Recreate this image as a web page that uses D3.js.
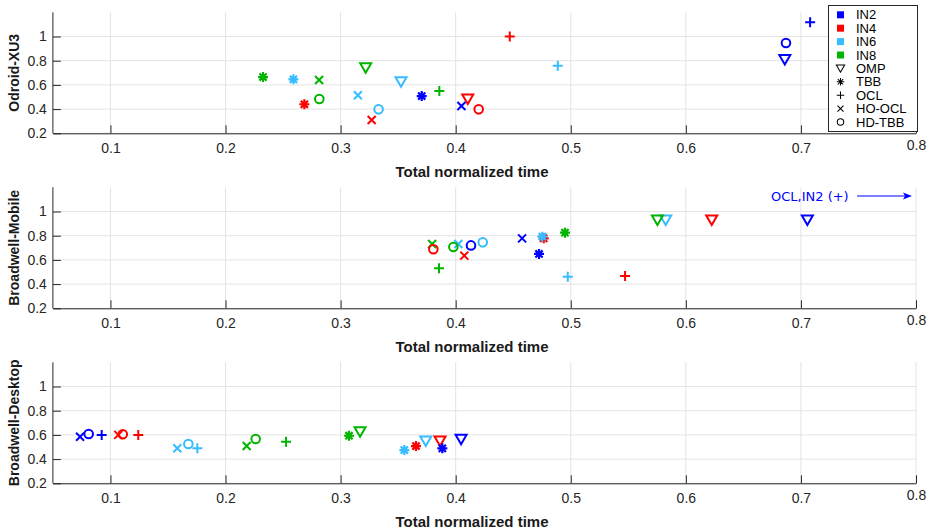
<!DOCTYPE html>
<html>
<head>
<meta charset="utf-8">
<script src="https://cdn.jsdelivr.net/npm/d3@7"></script>
<style>
  body { margin: 0; background: #fff; }
  svg { display: block; font-family: "Liberation Sans", Arial, Helvetica, sans-serif; }
</style>
</head>
<body>
<svg id="chart" width="926" height="532"></svg>
<script>
// ---------------- DATA ----------------
const platforms = ["Odroid-XU3", "Broadwell-Mobile", "Broadwell-Desktop"];
const configs = ["IN2", "IN4", "IN6", "IN8"];
const methods = ["OMP", "TBB", "OCL", "HO-OCL", "HD-TBB"];
const xTicks = [0.1, 0.2, 0.3, 0.4, 0.5, 0.6, 0.7, 0.8];
const yTicks = [0.2, 0.4, 0.6, 0.8, 1];
const xLabel = "Total normalized time";

// rows: IN2, IN4, IN6, IN8 ; columns: OMP, TBB, OCL, HO-OCL, HD-TBB
const odroidTime = [
  [0.686, 0.3705, 0.708, 0.405, 0.687],
  [0.4105, 0.2685, 0.447, 0.327, 0.420],
  [0.3525, 0.259, 0.4887, 0.315, 0.333],
  [0.3218, 0.2326, 0.3858, 0.2813, 0.2815]
];
const odroidEnergy = [
  [0.81, 0.508, 1.117, 0.426, 0.946],
  [0.483, 0.44, 1.0, 0.31, 0.398],
  [0.627, 0.646, 0.759, 0.514, 0.398],
  [0.742, 0.665, 0.55, 0.64, 0.483]
];
const mobileTime = [
  [0.7056, 0.4724, null, 0.4577, 0.4133],
  [0.6225, 0.4765, 0.5472, 0.4075, 0.3806],
  [0.5825, 0.4753, 0.4974, 0.4023, 0.4235],
  [0.5753, 0.495, 0.3855, 0.3795, 0.398]
];
const mobileEnergy = [
  [0.93, 0.649, null, 0.778, 0.72],
  [0.93, 0.778, 0.467, 0.635, 0.688],
  [0.93, 0.792, 0.461, 0.731, 0.745],
  [0.93, 0.825, 0.531, 0.731, 0.707]
];
const desktopTime = [
  [0.4047, 0.3884, 0.0924, 0.0736, 0.0811],
  [0.3864, 0.3655, 0.1242, 0.1068, 0.1107],
  [0.374, 0.3554, 0.1755, 0.1581, 0.1677],
  [0.3169, 0.3073, 0.2526, 0.2184, 0.2262]
];
const desktopEnergy = [
  [0.564, 0.489, 0.6, 0.585, 0.607],
  [0.55, 0.508, 0.6, 0.6, 0.605],
  [0.55, 0.475, 0.489, 0.489, 0.525],
  [0.627, 0.593, 0.544, 0.508, 0.566]
];
const annotationText = "OCL,IN2  (+)";

const configColors = ["#0000FF", "#FF0000", "#36BCFF", "#00B400"];

// ---------------- DRAW ----------------
const svg = d3.select("#chart");
const panelTimes = [odroidTime, mobileTime, desktopTime];
const panelEnergy = [odroidEnergy, mobileEnergy, desktopEnergy];

const x = d3.scaleLinear().domain([0.05, 0.8]).range([52.9, 916]);
const axisCol = "#262626";

function markerPath(g, method, color) {
  const sw = 2;
  if (method === "OMP") {
    g.append("path").attr("d", "M-5.5,-4.5L5.5,-4.5L0,5Z")
      .attr("fill", "none").attr("stroke", color).attr("stroke-width", sw).attr("stroke-linejoin", "miter");
  } else if (method === "TBB") {
    const r = 5, d = 3.6;
    g.append("path").attr("d", `M${-r},0H${r}M0,${-r}V${r}M${-d},${-d}L${d},${d}M${-d},${d}L${d},${-d}`)
      .attr("fill", "none").attr("stroke", color).attr("stroke-width", 2.2);
  } else if (method === "OCL") {
    const r = 5;
    g.append("path").attr("d", `M${-r},0H${r}M0,${-r}V${r}`)
      .attr("fill", "none").attr("stroke", color).attr("stroke-width", sw);
  } else if (method === "HO-OCL") {
    const r = 4;
    g.append("path").attr("d", `M${-r},${-r}L${r},${r}M${-r},${r}L${r},${-r}`)
      .attr("fill", "none").attr("stroke", color).attr("stroke-width", sw);
  } else {
    g.append("circle").attr("r", 4.3)
      .attr("fill", "none").attr("stroke", color).attr("stroke-width", sw);
  }
}

platforms.forEach((pname, i) => {
  const top = 12.3 + 175 * i, bottom = 133.3 + 175 * i;
  const y = d3.scaleLinear().domain([0.2, 1.2]).range([bottom, top]);
  const g = svg.append("g");

  // grid
  g.append("g").selectAll("line.v").data(xTicks).join("line")
    .attr("x1", d => x(d)).attr("x2", d => x(d)).attr("y1", top).attr("y2", bottom)
    .attr("stroke", "#e3e3e3").attr("stroke-width", 1);
  g.append("g").selectAll("line.h").data(yTicks).join("line")
    .attr("x1", x.range()[0]).attr("x2", x.range()[1]).attr("y1", d => y(d)).attr("y2", d => y(d))
    .attr("stroke", "#e3e3e3").attr("stroke-width", 1);

  // x axis
  const xa = g.append("g").attr("transform", `translate(0,${bottom})`)
    .call(d3.axisBottom(x).tickValues(xTicks).tickFormat(d3.format(".1f"))
      .tickSizeInner(-8).tickSizeOuter(0).tickPadding(10));
  xa.select(".domain").attr("stroke", axisCol);
  xa.selectAll(".tick line").attr("stroke", axisCol);
  xa.selectAll(".tick text").attr("fill", axisCol).attr("font-size", 14)
    .attr("font-family", "Liberation Sans, Arial, sans-serif")
    .attr("y", d => d === 0.8 ? 7 : 10);

  // y axis
  const ya = g.append("g").attr("transform", `translate(${x.range()[0]},0)`)
    .call(d3.axisLeft(y).tickValues(yTicks).tickFormat(d => d === 1 ? "1" : d.toFixed(1))
      .tickSizeInner(-8).tickSizeOuter(0).tickPadding(6));
  ya.select(".domain").attr("stroke", axisCol).attr("d", `M0,${top}V${bottom}`);
  ya.selectAll(".tick line").attr("stroke", axisCol);
  ya.selectAll(".tick text").attr("fill", axisCol).attr("font-size", 14)
    .attr("font-family", "Liberation Sans, Arial, sans-serif");

  // labels
  g.append("text").attr("x", 472).attr("y", bottom + 44)
    .attr("text-anchor", "middle").attr("font-weight", "bold").attr("font-size", 15)
    .attr("fill", "#1a1a1a").text(xLabel);
  g.append("text").attr("transform", `translate(19,${(top + bottom) / 2}) rotate(-90)`)
    .attr("text-anchor", "middle").attr("font-weight", "bold").attr("font-size", 14)
    .attr("fill", "#1a1a1a").text(pname);

  // points (method-major order)
  const T = panelTimes[i], E = panelEnergy[i];
  methods.forEach((m, mi) => {
    configs.forEach((c, ci) => {
      const tv = T[ci][mi], ev = E[ci][mi];
      if (tv == null || ev == null) return;
      const mg = g.append("g").attr("transform", `translate(${x(tv)},${y(ev)})`);
      markerPath(mg, m, configColors[ci]);
    });
  });

  if (i === 1) {
    g.append("text").attr("x", 771).attr("y", 200.5).attr("fill", "#0000FF")
      .attr("font-size", 13).attr("font-family", "DejaVu Sans, sans-serif").text(annotationText);
    g.append("line").attr("x1", 857).attr("x2", 906).attr("y1", 196).attr("y2", 196)
      .attr("stroke", "#0000FF").attr("stroke-width", 1);
    g.append("path").attr("d", "M912,196L903,192.5L905,196L903,199.5Z").attr("fill", "#0000FF");
  }
});

// legend
const lg = svg.append("g");
lg.append("rect").attr("x", 828.5).attr("y", 5.5).attr("width", 89).attr("height", 126)
  .attr("fill", "#fff").attr("stroke", "#262626").attr("stroke-width", 1);
const legendItems = configs.map((c, i) => ({ label: c, type: "color", color: configColors[i] }))
  .concat(methods.map(m => ({ label: m, type: "marker", method: m })));
legendItems.forEach((it, k) => {
  const yy = 14.8 + k * 13.4;
  if (it.type === "color") {
    lg.append("rect").attr("x", 837).attr("y", yy - 3.5).attr("width", 7).attr("height", 7).attr("fill", it.color);
  } else {
    const mg = lg.append("g").attr("transform", `translate(840.5,${yy}) scale(0.75)`);
    markerPath(mg, it.method, "#000");
    mg.selectAll("path,circle").attr("stroke-width", 1.4);
  }
  lg.append("text").attr("x", 856).attr("y", yy + 4.5).attr("font-size", 13).attr("fill", "#000").text(it.label);
});
</script>
</body>
</html>
